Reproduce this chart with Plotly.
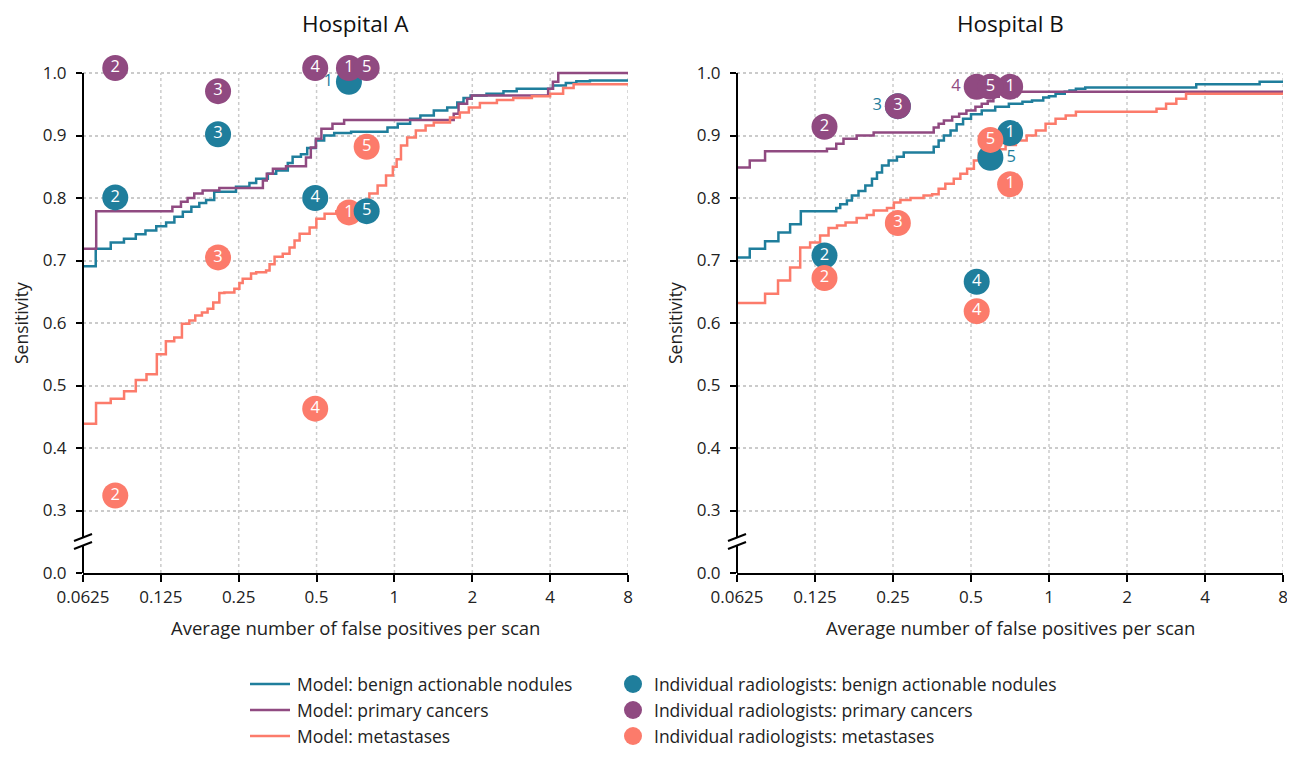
import math
import plotly.graph_objects as go

# ---------------- data ----------------
x_ticks = [0.0625, 0.125, 0.25, 0.5, 1, 2, 4, 8]
x_tick_labels = ["0.0625", "0.125", "0.25", "0.5", "1", "2", "4", "8"]
y_ticks = [0.2, 0.3, 0.4, 0.5, 0.6, 0.7, 0.8, 0.9, 1.0]
y_tick_labels = ["0.0", "0.3", "0.4", "0.5", "0.6", "0.7", "0.8", "0.9", "1.0"]

# Hospital A model curves (step curves)
A_benign_x = [0.0625, 0.070, 0.080, 0.090, 0.100, 0.109, 0.120, 0.131, 0.141, 0.152, 0.164, 0.176, 0.187,
              0.201, 0.244, 0.275, 0.292, 0.324, 0.349, 0.387, 0.404, 0.435, 0.460, 0.497, 0.535, 0.585,
              0.680, 0.940, 1.03, 1.15, 1.26, 1.42, 1.60, 1.75, 1.85, 1.97, 2.27, 2.64, 2.97, 4.10, 4.60,
              5.05, 5.70, 8.0]
A_benign_y = [0.691, 0.719, 0.729, 0.735, 0.742, 0.748, 0.755, 0.761, 0.770, 0.778, 0.786, 0.792, 0.797,
              0.810, 0.818, 0.824, 0.831, 0.839, 0.844, 0.856, 0.866, 0.870, 0.880, 0.892, 0.900, 0.904,
              0.906, 0.913, 0.919, 0.927, 0.932, 0.940, 0.945, 0.953, 0.960, 0.964, 0.967, 0.971, 0.975,
              0.980, 0.984, 0.987, 0.988, 0.990]
A_primary_x = [0.0625, 0.0703, 0.1385, 0.1495, 0.1586, 0.1683, 0.1813, 0.2104, 0.310, 0.321, 0.339, 0.381,
               0.455, 0.475, 0.497, 0.522, 0.576, 0.639, 1.695, 1.77, 1.91, 1.99, 3.93, 4.10, 4.30, 8.0]
A_primary_y = [0.719, 0.779, 0.786, 0.794, 0.800, 0.807, 0.812, 0.816, 0.828, 0.839, 0.847, 0.851,
               0.865, 0.881, 0.895, 0.911, 0.919, 0.925, 0.935, 0.951, 0.959, 0.964, 0.975, 0.986, 1.000, 1.000]
A_meta_x = [0.0625, 0.0702, 0.0800, 0.0901, 0.1000, 0.1100, 0.1206, 0.1307, 0.1408, 0.1508, 0.1611, 0.1698,
            0.1802, 0.1895, 0.1993, 0.2104, 0.2200, 0.2405, 0.2515, 0.259, 0.279, 0.292, 0.319, 0.329, 0.344,
            0.370, 0.393, 0.411, 0.430, 0.470, 0.499, 0.537, 0.596, 0.700, 0.800, 0.861, 0.928, 0.986, 1.02,
            1.06, 1.12, 1.21, 1.32, 1.42, 1.64, 1.79, 1.94, 2.14, 2.49, 2.88, 3.40, 4.00, 4.49, 4.93, 8.0]
A_meta_y = [0.439, 0.472, 0.479, 0.491, 0.509, 0.518, 0.550, 0.571, 0.577, 0.599, 0.604, 0.612,
            0.617, 0.623, 0.633, 0.648, 0.649, 0.655, 0.664, 0.671, 0.679, 0.681, 0.684, 0.694, 0.706,
            0.711, 0.721, 0.732, 0.743, 0.753, 0.767, 0.775, 0.779, 0.790, 0.807, 0.820, 0.836, 0.850, 0.862,
            0.884, 0.897, 0.908, 0.916, 0.921, 0.929, 0.937, 0.945, 0.952, 0.957, 0.960, 0.963, 0.967, 0.976,
            0.982, 0.982]

# Hospital B model curves
B_benign_x = [0.0625, 0.0700, 0.0802, 0.0903, 0.1002, 0.1102, 0.151, 0.1564, 0.166, 0.1735, 0.184, 0.1955,
              0.2074, 0.2168, 0.2268, 0.2405, 0.2589, 0.275, 0.359, 0.375, 0.393, 0.417, 0.440, 0.466, 0.50,
              0.55, 0.62, 0.70, 0.79, 0.86, 0.95, 1.00, 1.06, 1.15, 1.20, 1.27, 1.38, 3.70, 6.50, 8.0]
B_benign_y = [0.705, 0.719, 0.731, 0.745, 0.758, 0.779, 0.784, 0.790, 0.796, 0.804, 0.811, 0.820,
              0.831, 0.841, 0.852, 0.860, 0.866, 0.873, 0.882, 0.892, 0.900, 0.908, 0.918, 0.927, 0.934,
              0.940, 0.946, 0.951, 0.954, 0.956, 0.961, 0.963, 0.967, 0.970, 0.972, 0.975, 0.977, 0.982,
              0.986, 0.987]
B_primary_x = [0.0625, 0.0700, 0.0802, 0.139, 0.151, 0.161, 0.181, 0.2105, 0.359, 0.375, 0.393, 0.423,
               0.45, 0.48, 0.52, 0.55, 0.58, 0.61, 0.64, 0.68, 8.0]
B_primary_y = [0.849, 0.860, 0.875, 0.879, 0.887, 0.895, 0.900, 0.905, 0.913, 0.919, 0.924, 0.930,
               0.935, 0.940, 0.946, 0.951, 0.955, 0.962, 0.966, 0.970, 0.970]
B_meta_x = [0.0625, 0.0802, 0.0900, 0.1002, 0.1096, 0.1197, 0.1308, 0.1410, 0.152, 0.164, 0.181, 0.198,
            0.2105, 0.237, 0.252, 0.267, 0.292, 0.328, 0.354, 0.375, 0.398, 0.429, 0.455, 0.483, 0.513,
            0.536, 0.60, 0.68, 0.745, 0.82, 0.89, 0.97, 1.06, 1.16, 1.27, 2.60, 2.83, 3.10, 3.38, 8.0]
B_meta_y = [0.632, 0.647, 0.668, 0.689, 0.721, 0.729, 0.740, 0.752, 0.756, 0.761, 0.768, 0.773,
            0.780, 0.784, 0.793, 0.797, 0.800, 0.804, 0.806, 0.815, 0.823, 0.831, 0.839, 0.847, 0.860,
            0.871, 0.878, 0.885, 0.892, 0.900, 0.908, 0.919, 0.927, 0.932, 0.938, 0.943, 0.951, 0.959,
            0.967, 0.967]

# Individual radiologists (1..5)
radiologists = ["1", "2", "3", "4", "5"]
A_rad_fp = [0.667, 0.0833, 0.208, 0.494, 0.781]
A_rad_benign = [0.986, 0.801, 0.902, 0.800, 0.779]
A_rad_primary = [1.008, 1.008, 0.971, 1.008, 1.008]
A_rad_meta = [0.777, 0.324, 0.705, 0.463, 0.882]
B_rad_fp = [0.708, 0.136, 0.261, 0.526, 0.594]
B_rad_benign = [0.904, 0.708, 0.947, 0.666, 0.8645]
B_rad_primary = [0.978, 0.914, 0.947, 0.978, 0.978]
B_rad_meta = [0.822, 0.672, 0.760, 0.619, 0.893]
# where each label sits: "in" (inside marker), "left", "right"
A_lab_benign = ["left", "in", "in", "in", "in"]
A_lab_primary = ["in", "in", "in", "in", "in"]
A_lab_meta = ["in", "in", "in", "in", "in"]
B_lab_benign = ["in", "in", "left", "in", "right"]
B_lab_primary = ["in", "in", "in", "left", "in"]
B_lab_meta = ["in", "in", "in", "in", "in"]

categories = ["benign actionable nodules", "primary cancers", "metastases"]
colors = ["#1F7E9C", "#904A81", "#FC7B6B"]

FONT = "Open Sans"
OFF = 8                      # page body margin
FW, FH = 1295 - 2 * OFF, 757 - 2 * OFF
MS = 26


def px_x(p):
    return (p - OFF) / FW


def px_y(p):
    return 1 - (p - OFF) / FH


fig = go.Figure()

panels = [
    dict(xa="x", ya="y",
         curves=[(A_benign_x, A_benign_y), (A_primary_x, A_primary_y), (A_meta_x, A_meta_y)],
         fp=A_rad_fp, vals=[A_rad_benign, A_rad_primary, A_rad_meta],
         labs=[A_lab_benign, A_lab_primary, A_lab_meta]),
    dict(xa="x2", ya="y2",
         curves=[(B_benign_x, B_benign_y), (B_primary_x, B_primary_y), (B_meta_x, B_meta_y)],
         fp=B_rad_fp, vals=[B_rad_benign, B_rad_primary, B_rad_meta],
         labs=[B_lab_benign, B_lab_primary, B_lab_meta]),
]

for pi, p in enumerate(panels):
    for ci, (cx, cy) in enumerate(p["curves"]):
        fig.add_trace(go.Scatter(
            x=cx, y=cy, mode="lines", line=dict(color=colors[ci], width=2.5, shape="hv"),
            xaxis=p["xa"], yaxis=p["ya"], name="Model: " + categories[ci],
            showlegend=False, hoverinfo="skip"))
    for ri in range(len(radiologists)):
        fig.add_trace(go.Scatter(
            x=[p["fp"][ri]] * 3, y=[p["vals"][ci][ri] for ci in range(3)],
            mode="markers", marker=dict(size=MS, color=colors, line=dict(width=0)),
            xaxis=p["xa"], yaxis=p["ya"], showlegend=False, cliponaxis=False, hoverinfo="skip"))
    tx, ty, tt, tp, tc = [], [], [], [], []
    for ci in range(3):
        for ri in range(len(radiologists)):
            pos = p["labs"][ci][ri]
            tx.append(p["fp"][ri]); ty.append(p["vals"][ci][ri]); tt.append(radiologists[ri])
            tp.append({"in": "middle center", "left": "middle left", "right": "middle right"}[pos])
            tc.append("white" if pos == "in" else colors[ci])
    fig.add_trace(go.Scatter(
        x=tx, y=ty, text=tt, mode="markers+text", textposition=tp,
        marker=dict(size=MS - 2, opacity=0),
        textfont=dict(color=tc, size=16.5, family=FONT),
        xaxis=p["xa"], yaxis=p["ya"], showlegend=False, cliponaxis=False, hoverinfo="skip"))

YTOP = 1.03  # headroom so radiologist markers above 1.0 stay visible
px_per_unit = 625.0
top_px = 73 - (YTOP - 1.0) * px_per_unit
xdoms = [[px_x(83), px_x(628)], [px_x(737), px_x(1283)]]
ydom = [px_y(573), px_y(top_px)]

tickfont = dict(size=17, family=FONT, color="#222")
axis_common_x = dict(type="log", range=[math.log10(0.0625), math.log10(8)],
                     tickvals=x_ticks, ticktext=x_tick_labels, automargin=False,
                     showline=True, linecolor="black", linewidth=2,
                     ticks="outside", ticklen=7, tickwidth=2, tickcolor="black",
                     showgrid=False, zeroline=False, tickfont=tickfont, ticklabelstandoff=1,
                     ticklabeloverflow="allow")
axis_common_y = dict(range=[0.2, YTOP], tickvals=y_ticks, ticktext=y_tick_labels, automargin=False,
                     showline=False, ticks="outside", ticklen=6, tickwidth=2, tickcolor="black",
                     showgrid=True, gridcolor="#cbcbcb", gridwidth=1.5, griddash="dot",
                     zeroline=False, tickfont=tickfont, ticklabelstandoff=6)

fig.update_layout(
    width=FW, height=FH, margin=dict(l=0, r=0, t=0, b=0, autoexpand=False),
    paper_bgcolor="white", plot_bgcolor="white",
    font=dict(family=FONT, color="#222"),
    xaxis=dict(domain=xdoms[0], anchor="y", **axis_common_x),
    yaxis=dict(domain=ydom, anchor="x", **axis_common_y),
    xaxis2=dict(domain=xdoms[1], anchor="y2", **axis_common_x),
    yaxis2=dict(domain=ydom, anchor="x2", **axis_common_y),
    showlegend=False,
)

shapes = []
annotations = []
titles = ["Hospital A", "Hospital B"]
for i, (xr, yr) in enumerate([("x", "y"), ("x2", "y2")]):
    dref = xr + " domain"
    # vertical dotted grid lines (stop at 1.0)
    for v in x_ticks[1:]:
        shapes.append(dict(type="line", xref=xr, yref=yr, x0=v, x1=v,
                           y0=0.2, y1=1.0, layer="below",
                           line=dict(color="#cbcbcb", width=1.5, dash="dot")))
    # broken y-axis line
    shapes.append(dict(type="line", xref=dref, yref=yr, x0=0, x1=0, y0=1.0, y1=0.2568,
                       line=dict(color="black", width=2)))
    shapes.append(dict(type="line", xref=dref, yref=yr, x0=0, x1=0, y0=0.244, y1=0.2,
                       line=dict(color="black", width=2)))
    for (ya, yb) in [(0.2512, 0.2624), (0.2384, 0.2496)]:
        shapes.append(dict(type="line", xref=dref, yref=yr, xsizemode="pixel", xanchor=0,
                           x0=-9, x1=9, y0=ya, y1=yb, line=dict(color="black", width=2)))
    annotations.append(dict(text=titles[i], xref=dref, yref="paper", x=0.5, y=px_y(24),
                            showarrow=False, font=dict(size=22.5, family=FONT, color="#111"),
                            xanchor="center", yanchor="middle"))
    annotations.append(dict(text="Average number of false positives per scan", xref=dref, yref="paper",
                            x=0.5, y=px_y(627), showarrow=False,
                            font=dict(size=18.5, family=FONT, color="#222"),
                            xanchor="center", yanchor="middle"))
    annotations.append(dict(text="Sensitivity", xref="paper", yref="paper",
                            x=px_x(21 if i == 0 else 675), y=px_y(323), textangle=-90, showarrow=False,
                            font=dict(size=17.5, family=FONT, color="#222"),
                            xanchor="center", yanchor="middle"))

# ---- legend (two columns) ----
legend_rows = [684, 710, 736]
legfont = dict(size=17.5, family=FONT, color="#222")
for ci in range(3):
    yy = px_y(legend_rows[ci])
    shapes.append(dict(type="line", xref="paper", yref="paper", x0=px_x(250), x1=px_x(290),
                       y0=yy, y1=yy, line=dict(color=colors[ci], width=2.5)))
    annotations.append(dict(text="Model: " + categories[ci], xref="paper", yref="paper",
                            x=px_x(296), y=yy, xanchor="left", yanchor="middle",
                            showarrow=False, font=legfont, borderpad=0))
    shapes.append(dict(type="circle", xref="paper", yref="paper", xsizemode="pixel", ysizemode="pixel",
                       xanchor=px_x(633), yanchor=yy, x0=-9, x1=9, y0=-9, y1=9,
                       fillcolor=colors[ci], line=dict(width=0)))
    annotations.append(dict(text="Individual radiologists: " + categories[ci], xref="paper", yref="paper",
                            x=px_x(653), y=yy, xanchor="left", yanchor="middle",
                            showarrow=False, font=legfont, borderpad=0))

fig.update_layout(shapes=shapes, annotations=annotations)
fig.write_html("out.html")
